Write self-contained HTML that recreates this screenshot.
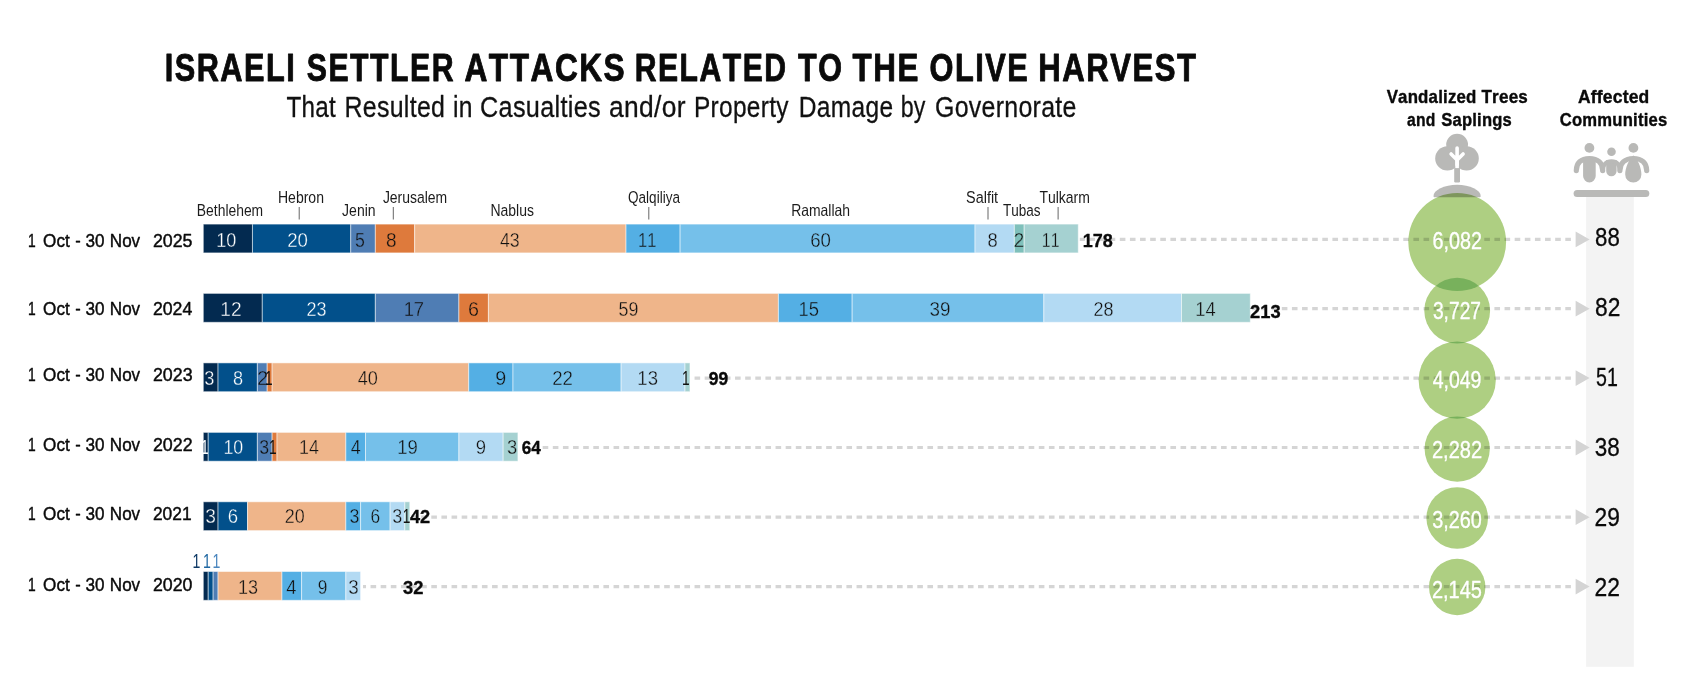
<!DOCTYPE html>
<html lang="en"><head><meta charset="utf-8"><title>Israeli settler attacks related to the olive harvest</title>
<style>html,body{margin:0;padding:0;background:#fff}svg{display:block}</style></head>
<body>
<svg width="1688" height="694" viewBox="0 0 1688 694" font-family='"Liberation Sans", sans-serif' style="font-kerning:none;font-variant-ligatures:none">
<rect width="1688" height="694" fill="#fff"/>
<rect x="1586.1" y="196" width="47.7" height="470.8" fill="#f3f3f3"/>
<text transform="translate(164.70 80.70) scale(0.7831 1)" font-size="39.2" font-weight="700" letter-spacing="1.915" fill="#0a0a0a" stroke="#0a0a0a" stroke-width="0.9" stroke-linejoin="round">ISRAELI</text>
<text transform="translate(306.78 80.70) scale(0.7716 1)" font-size="39.2" font-weight="700" letter-spacing="1.944" fill="#0a0a0a" stroke="#0a0a0a" stroke-width="0.9" stroke-linejoin="round">SETTLER</text>
<text transform="translate(464.47 80.70) scale(0.8079 1)" font-size="39.2" font-weight="700" letter-spacing="1.857" fill="#0a0a0a" stroke="#0a0a0a" stroke-width="0.9" stroke-linejoin="round">ATTACKS</text>
<text transform="translate(634.73 80.70) scale(0.7687 1)" font-size="39.2" font-weight="700" letter-spacing="1.951" fill="#0a0a0a" stroke="#0a0a0a" stroke-width="0.9" stroke-linejoin="round">RELATED</text>
<text transform="translate(798.11 80.70) scale(0.7793 1)" font-size="39.2" font-weight="700" letter-spacing="1.925" fill="#0a0a0a" stroke="#0a0a0a" stroke-width="0.9" stroke-linejoin="round">TO</text>
<text transform="translate(852.61 80.70) scale(0.8005 1)" font-size="39.2" font-weight="700" letter-spacing="1.874" fill="#0a0a0a" stroke="#0a0a0a" stroke-width="0.9" stroke-linejoin="round">THE</text>
<text transform="translate(929.59 80.70) scale(0.7844 1)" font-size="39.2" font-weight="700" letter-spacing="1.912" fill="#0a0a0a" stroke="#0a0a0a" stroke-width="0.9" stroke-linejoin="round">OLIVE</text>
<text transform="translate(1038.28 80.70) scale(0.7939 1)" font-size="39.2" font-weight="700" letter-spacing="1.889" fill="#0a0a0a" stroke="#0a0a0a" stroke-width="0.9" stroke-linejoin="round">HARVEST</text>
<text transform="translate(286.38 116.70) scale(0.8382 1)" font-size="28.9" letter-spacing="0.358" fill="#111" stroke="#111" stroke-width="0.3" stroke-linejoin="round">That</text>
<text transform="translate(344.48 116.70) scale(0.8626 1)" font-size="28.9" letter-spacing="0.348" fill="#111" stroke="#111" stroke-width="0.3" stroke-linejoin="round">Resulted</text>
<text transform="translate(453.08 116.70) scale(0.8534 1)" font-size="28.9" letter-spacing="0.352" fill="#111" stroke="#111" stroke-width="0.3" stroke-linejoin="round">in</text>
<text transform="translate(480.05 116.70) scale(0.8740 1)" font-size="28.9" letter-spacing="0.343" fill="#111" stroke="#111" stroke-width="0.3" stroke-linejoin="round">Casualties</text>
<text transform="translate(609.12 116.70) scale(0.9139 1)" font-size="28.9" letter-spacing="0.328" fill="#111" stroke="#111" stroke-width="0.3" stroke-linejoin="round">and/or</text>
<text transform="translate(694.02 116.70) scale(0.8460 1)" font-size="28.9" letter-spacing="0.355" fill="#111" stroke="#111" stroke-width="0.3" stroke-linejoin="round">Property</text>
<text transform="translate(798.81 116.70) scale(0.8491 1)" font-size="28.9" letter-spacing="0.353" fill="#111" stroke="#111" stroke-width="0.3" stroke-linejoin="round">Damage</text>
<text transform="translate(900.63 116.70) scale(0.8027 1)" font-size="28.9" letter-spacing="0.374" fill="#111" stroke="#111" stroke-width="0.3" stroke-linejoin="round">by</text>
<text transform="translate(934.98 116.70) scale(0.8622 1)" font-size="28.9" letter-spacing="0.348" fill="#111" stroke="#111" stroke-width="0.3" stroke-linejoin="round">Governorate</text>
<text transform="translate(1386.66 102.60) scale(0.8864 1)" font-size="19.0" font-weight="700" letter-spacing="0.226" fill="#0a0a0a" stroke="#0a0a0a" stroke-width="0.4" stroke-linejoin="round">Vandalized</text>
<text transform="translate(1481.49 102.60) scale(0.8981 1)" font-size="19.0" font-weight="700" letter-spacing="0.223" fill="#0a0a0a" stroke="#0a0a0a" stroke-width="0.4" stroke-linejoin="round">Trees</text>
<text transform="translate(1407.01 126.30) scale(0.8248 1)" font-size="19.0" font-weight="700" letter-spacing="0.242" fill="#0a0a0a" stroke="#0a0a0a" stroke-width="0.4" stroke-linejoin="round">and</text>
<text transform="translate(1441.30 126.30) scale(0.8728 1)" font-size="19.0" font-weight="700" letter-spacing="0.229" fill="#0a0a0a" stroke="#0a0a0a" stroke-width="0.4" stroke-linejoin="round">Saplings</text>
<text transform="translate(1577.95 102.60) scale(0.9212 1)" font-size="19.0" font-weight="700" letter-spacing="0.217" fill="#0a0a0a" stroke="#0a0a0a" stroke-width="0.4" stroke-linejoin="round">Affected</text>
<text transform="translate(1559.79 126.30) scale(0.8759 1)" font-size="19.0" font-weight="700" letter-spacing="0.228" fill="#0a0a0a" stroke="#0a0a0a" stroke-width="0.4" stroke-linejoin="round">Communities</text>
<text transform="translate(196.86 215.70) scale(0.8311 1)" font-size="16.7" fill="#1c1c1c">Bethlehem</text>
<text transform="translate(277.95 202.60) scale(0.8410 1)" font-size="16.7" fill="#1c1c1c">Hebron</text>
<text transform="translate(342.08 215.70) scale(0.8399 1)" font-size="16.7" fill="#1c1c1c">Jenin</text>
<text transform="translate(382.88 202.60) scale(0.8365 1)" font-size="16.7" fill="#1c1c1c">Jerusalem</text>
<text transform="translate(490.45 215.70) scale(0.8378 1)" font-size="16.7" fill="#1c1c1c">Nablus</text>
<text transform="translate(628.06 202.60) scale(0.8110 1)" font-size="16.7" fill="#1c1c1c">Qalqiliya</text>
<text transform="translate(791.16 215.70) scale(0.8357 1)" font-size="16.7" fill="#1c1c1c">Ramallah</text>
<text transform="translate(966.05 202.60) scale(0.8635 1)" font-size="16.7" fill="#1c1c1c">Salfit</text>
<text transform="translate(1003.00 215.70) scale(0.8099 1)" font-size="16.7" fill="#1c1c1c">Tubas</text>
<text transform="translate(1039.39 202.60) scale(0.8380 1)" font-size="16.7" fill="#1c1c1c">Tulkarm</text>
<rect x="298.7" y="207" width="1" height="12.5" fill="#666"/>
<rect x="392.8" y="207" width="1" height="12.5" fill="#666"/>
<rect x="648.3" y="207" width="1" height="12.5" fill="#666"/>
<rect x="987.5" y="207" width="1" height="12.5" fill="#666"/>
<rect x="1057.6" y="207" width="1" height="12.5" fill="#666"/>
<path d="M1570.9 239.4H1079.8" stroke="#d5d5d5" stroke-width="3.2" stroke-dasharray="5.6 4.525" fill="none"/>
<path d="M1570.9 308.7H1251.8" stroke="#d5d5d5" stroke-width="3.2" stroke-dasharray="5.6 4.525" fill="none"/>
<path d="M1570.9 378.1H691.4" stroke="#d5d5d5" stroke-width="3.2" stroke-dasharray="5.6 4.525" fill="none"/>
<path d="M1570.9 447.5H519.4" stroke="#d5d5d5" stroke-width="3.2" stroke-dasharray="5.6 4.525" fill="none"/>
<path d="M1570.9 517.2H411.3" stroke="#d5d5d5" stroke-width="3.2" stroke-dasharray="5.6 4.525" fill="none"/>
<path d="M1570.9 586.6H363.0" stroke="#d5d5d5" stroke-width="3.2" stroke-dasharray="5.6 4.525" fill="none"/>
<path d="M1575.6 231.5L1589.6 239.4L1575.6 247.3Z" fill="#d4d4d4"/>
<path d="M1575.6 300.8L1589.6 308.7L1575.6 316.6Z" fill="#d4d4d4"/>
<path d="M1575.6 370.2L1589.6 378.1L1575.6 386.0Z" fill="#d4d4d4"/>
<path d="M1575.6 439.6L1589.6 447.5L1575.6 455.4Z" fill="#d4d4d4"/>
<path d="M1575.6 509.3L1589.6 517.2L1575.6 525.1Z" fill="#d4d4d4"/>
<path d="M1575.6 578.7L1589.6 586.6L1575.6 594.5Z" fill="#d4d4d4"/>
<rect x="203.30" y="224.10" width="49.16" height="28.80" fill="#032a50" stroke="#fff" stroke-opacity="0.5" stroke-width="1"/>
<rect x="252.46" y="224.10" width="98.31" height="28.80" fill="#02508b" stroke="#fff" stroke-opacity="0.5" stroke-width="1"/>
<rect x="350.76" y="224.10" width="24.58" height="28.80" fill="#4f7db4" stroke="#fff" stroke-opacity="0.5" stroke-width="1"/>
<rect x="375.34" y="224.10" width="39.32" height="28.80" fill="#de7a3c" stroke="#fff" stroke-opacity="0.5" stroke-width="1"/>
<rect x="414.67" y="224.10" width="211.37" height="28.80" fill="#efb58a" stroke="#fff" stroke-opacity="0.5" stroke-width="1"/>
<rect x="626.03" y="224.10" width="54.07" height="28.80" fill="#54afe4" stroke="#fff" stroke-opacity="0.5" stroke-width="1"/>
<rect x="680.10" y="224.10" width="294.93" height="28.80" fill="#75c0ea" stroke="#fff" stroke-opacity="0.5" stroke-width="1"/>
<rect x="975.03" y="224.10" width="39.32" height="28.80" fill="#b3daf3" stroke="#fff" stroke-opacity="0.5" stroke-width="1"/>
<rect x="1014.36" y="224.10" width="9.83" height="28.80" fill="#7fc0bb" stroke="#fff" stroke-opacity="0.5" stroke-width="1"/>
<rect x="1024.19" y="224.10" width="54.07" height="28.80" fill="#a5d1d1" stroke="#fff" stroke-opacity="0.5" stroke-width="1"/>
<text transform="translate(216.16 247.00) scale(0.9222 1)" font-size="19.6" fill="#ffffff" stroke="#032a50" stroke-width="0.35" stroke-linejoin="round">10</text>
<text transform="translate(287.15 247.00) scale(0.9518 1)" font-size="19.6" fill="#ffffff" stroke="#02508b" stroke-width="0.35" stroke-linejoin="round">20</text>
<text transform="translate(355.03 247.00) scale(0.9058 1)" font-size="19.6" fill="#111" stroke="#4f7db4" stroke-width="0.35" stroke-linejoin="round">5</text>
<text transform="translate(386.10 247.00) scale(0.9721 1)" font-size="19.6" fill="#111" stroke="#de7a3c" stroke-width="0.35" stroke-linejoin="round">8</text>
<text transform="translate(499.93 247.00) scale(0.9062 1)" font-size="19.6" fill="#111" stroke="#efb58a" stroke-width="0.35" stroke-linejoin="round">43</text>
<text transform="translate(638.10 247.00) scale(0.8421 1)" font-size="19.6" fill="#111" stroke="#54afe4" stroke-width="0.35" stroke-linejoin="round">11</text>
<text transform="translate(810.14 247.00) scale(0.9522 1)" font-size="19.6" fill="#111" stroke="#75c0ea" stroke-width="0.35" stroke-linejoin="round">60</text>
<text transform="translate(987.54 247.00) scale(0.9382 1)" font-size="19.6" fill="#111" stroke="#b3daf3" stroke-width="0.35" stroke-linejoin="round">8</text>
<text transform="translate(1013.69 247.00) scale(0.9558 1)" font-size="19.6" fill="#111" stroke="#7fc0bb" stroke-width="0.35" stroke-linejoin="round">2</text>
<text transform="translate(1041.85 247.00) scale(0.8105 1)" font-size="19.6" fill="#111" stroke="#a5d1d1" stroke-width="0.35" stroke-linejoin="round">11</text>
<text transform="translate(28.01 246.70) scale(0.7401 1)" font-size="18.7" fill="#0a0a0a" stroke="#0a0a0a" stroke-width="0.45" stroke-linejoin="round">1</text>
<text transform="translate(43.10 246.70) scale(0.9152 1)" font-size="18.7" fill="#0a0a0a" stroke="#0a0a0a" stroke-width="0.45" stroke-linejoin="round">Oct</text>
<text transform="translate(75.17 246.70) scale(0.8773 1)" font-size="18.7" fill="#0a0a0a" stroke="#0a0a0a" stroke-width="0.45" stroke-linejoin="round">-</text>
<text transform="translate(85.55 246.70) scale(0.9138 1)" font-size="18.7" fill="#0a0a0a" stroke="#0a0a0a" stroke-width="0.45" stroke-linejoin="round">30</text>
<text transform="translate(109.81 246.70) scale(0.9126 1)" font-size="18.7" fill="#0a0a0a" stroke="#0a0a0a" stroke-width="0.45" stroke-linejoin="round">Nov</text>
<text transform="translate(152.92 246.70) scale(0.9523 1)" font-size="18.7" fill="#0a0a0a" stroke="#0a0a0a" stroke-width="0.45" stroke-linejoin="round">2025</text>
<text transform="translate(1082.63 246.70) scale(0.9482 1)" font-size="19.0" font-weight="700" fill="#0a0a0a" stroke="#0a0a0a" stroke-width="0.35" stroke-linejoin="round">178</text>
<rect x="203.30" y="293.40" width="58.99" height="28.90" fill="#032a50" stroke="#fff" stroke-opacity="0.5" stroke-width="1"/>
<rect x="262.29" y="293.40" width="113.06" height="28.90" fill="#02508b" stroke="#fff" stroke-opacity="0.5" stroke-width="1"/>
<rect x="375.34" y="293.40" width="83.56" height="28.90" fill="#4f7db4" stroke="#fff" stroke-opacity="0.5" stroke-width="1"/>
<rect x="458.91" y="293.40" width="29.49" height="28.90" fill="#de7a3c" stroke="#fff" stroke-opacity="0.5" stroke-width="1"/>
<rect x="488.40" y="293.40" width="290.01" height="28.90" fill="#efb58a" stroke="#fff" stroke-opacity="0.5" stroke-width="1"/>
<rect x="778.41" y="293.40" width="73.73" height="28.90" fill="#54afe4" stroke="#fff" stroke-opacity="0.5" stroke-width="1"/>
<rect x="852.15" y="293.40" width="191.70" height="28.90" fill="#75c0ea" stroke="#fff" stroke-opacity="0.5" stroke-width="1"/>
<rect x="1043.85" y="293.40" width="137.63" height="28.90" fill="#b3daf3" stroke="#fff" stroke-opacity="0.5" stroke-width="1"/>
<rect x="1181.48" y="293.40" width="68.82" height="28.90" fill="#a5d1d1" stroke="#fff" stroke-opacity="0.5" stroke-width="1"/>
<text transform="translate(220.37 315.80) scale(0.9751 1)" font-size="19.6" fill="#ffffff" stroke="#032a50" stroke-width="0.35" stroke-linejoin="round">12</text>
<text transform="translate(306.43 315.80) scale(0.9182 1)" font-size="19.6" fill="#ffffff" stroke="#02508b" stroke-width="0.35" stroke-linejoin="round">23</text>
<text transform="translate(403.64 315.80) scale(0.9382 1)" font-size="19.6" fill="#111" stroke="#4f7db4" stroke-width="0.35" stroke-linejoin="round">17</text>
<text transform="translate(468.07 315.80) scale(1.0064 1)" font-size="19.6" fill="#111" stroke="#de7a3c" stroke-width="0.35" stroke-linejoin="round">6</text>
<text transform="translate(618.62 315.80) scale(0.9119 1)" font-size="19.6" fill="#111" stroke="#efb58a" stroke-width="0.35" stroke-linejoin="round">59</text>
<text transform="translate(798.43 315.80) scale(0.9407 1)" font-size="19.6" fill="#111" stroke="#54afe4" stroke-width="0.35" stroke-linejoin="round">15</text>
<text transform="translate(929.61 315.80) scale(0.9607 1)" font-size="19.6" fill="#111" stroke="#75c0ea" stroke-width="0.35" stroke-linejoin="round">39</text>
<text transform="translate(1093.43 315.80) scale(0.9177 1)" font-size="19.6" fill="#111" stroke="#b3daf3" stroke-width="0.35" stroke-linejoin="round">28</text>
<text transform="translate(1195.23 315.80) scale(0.9389 1)" font-size="19.6" fill="#111" stroke="#a5d1d1" stroke-width="0.35" stroke-linejoin="round">14</text>
<text transform="translate(28.01 315.00) scale(0.7401 1)" font-size="18.7" fill="#0a0a0a" stroke="#0a0a0a" stroke-width="0.45" stroke-linejoin="round">1</text>
<text transform="translate(43.10 315.00) scale(0.9152 1)" font-size="18.7" fill="#0a0a0a" stroke="#0a0a0a" stroke-width="0.45" stroke-linejoin="round">Oct</text>
<text transform="translate(75.17 315.00) scale(0.8773 1)" font-size="18.7" fill="#0a0a0a" stroke="#0a0a0a" stroke-width="0.45" stroke-linejoin="round">-</text>
<text transform="translate(85.55 315.00) scale(0.9138 1)" font-size="18.7" fill="#0a0a0a" stroke="#0a0a0a" stroke-width="0.45" stroke-linejoin="round">30</text>
<text transform="translate(109.81 315.00) scale(0.9126 1)" font-size="18.7" fill="#0a0a0a" stroke="#0a0a0a" stroke-width="0.45" stroke-linejoin="round">Nov</text>
<text transform="translate(152.92 315.00) scale(0.9467 1)" font-size="18.7" fill="#0a0a0a" stroke="#0a0a0a" stroke-width="0.45" stroke-linejoin="round">2024</text>
<text transform="translate(1250.03 317.70) scale(0.9640 1)" font-size="19.0" font-weight="700" fill="#0a0a0a" stroke="#0a0a0a" stroke-width="0.35" stroke-linejoin="round">213</text>
<rect x="203.30" y="362.90" width="14.75" height="28.80" fill="#032a50" stroke="#fff" stroke-opacity="0.5" stroke-width="1"/>
<rect x="218.05" y="362.90" width="39.32" height="28.80" fill="#02508b" stroke="#fff" stroke-opacity="0.5" stroke-width="1"/>
<rect x="257.37" y="362.90" width="9.83" height="28.80" fill="#4f7db4" stroke="#fff" stroke-opacity="0.5" stroke-width="1"/>
<rect x="267.20" y="362.90" width="4.92" height="28.80" fill="#de7a3c" stroke="#fff" stroke-opacity="0.5" stroke-width="1"/>
<rect x="272.12" y="362.90" width="196.62" height="28.80" fill="#efb58a" stroke="#fff" stroke-opacity="0.5" stroke-width="1"/>
<rect x="468.74" y="362.90" width="44.24" height="28.80" fill="#54afe4" stroke="#fff" stroke-opacity="0.5" stroke-width="1"/>
<rect x="512.98" y="362.90" width="108.14" height="28.80" fill="#75c0ea" stroke="#fff" stroke-opacity="0.5" stroke-width="1"/>
<rect x="621.12" y="362.90" width="63.90" height="28.80" fill="#b3daf3" stroke="#fff" stroke-opacity="0.5" stroke-width="1"/>
<rect x="685.02" y="362.90" width="4.92" height="28.80" fill="#a5d1d1" stroke="#fff" stroke-opacity="0.5" stroke-width="1"/>
<text transform="translate(204.14 384.60) scale(0.9281 1)" font-size="19.6" fill="#ffffff" stroke="#032a50" stroke-width="0.35" stroke-linejoin="round">3</text>
<text transform="translate(232.95 384.60) scale(0.9269 1)" font-size="19.6" fill="#ffffff" stroke="#02508b" stroke-width="0.35" stroke-linejoin="round">8</text>
<text transform="translate(257.35 384.60) scale(0.9908 1)" font-size="19.6" fill="#111" stroke="#4f7db4" stroke-width="0.35" stroke-linejoin="round">2</text>
<text transform="translate(265.00 384.60) scale(0.7000 1)" font-size="19.6" fill="#111">1</text>
<text transform="translate(357.67 384.60) scale(0.9266 1)" font-size="19.6" fill="#111" stroke="#efb58a" stroke-width="0.35" stroke-linejoin="round">40</text>
<text transform="translate(495.15 384.60) scale(1.0053 1)" font-size="19.6" fill="#111" stroke="#54afe4" stroke-width="0.35" stroke-linejoin="round">9</text>
<text transform="translate(552.15 384.60) scale(0.9497 1)" font-size="19.6" fill="#111" stroke="#75c0ea" stroke-width="0.35" stroke-linejoin="round">22</text>
<text transform="translate(637.32 384.60) scale(0.9478 1)" font-size="19.6" fill="#111" stroke="#b3daf3" stroke-width="0.35" stroke-linejoin="round">13</text>
<text transform="translate(681.90 384.60) scale(0.7000 1)" font-size="19.6" fill="#111">1</text>
<text transform="translate(28.01 380.75) scale(0.7401 1)" font-size="18.7" fill="#0a0a0a" stroke="#0a0a0a" stroke-width="0.45" stroke-linejoin="round">1</text>
<text transform="translate(43.10 380.75) scale(0.9152 1)" font-size="18.7" fill="#0a0a0a" stroke="#0a0a0a" stroke-width="0.45" stroke-linejoin="round">Oct</text>
<text transform="translate(75.17 380.75) scale(0.8773 1)" font-size="18.7" fill="#0a0a0a" stroke="#0a0a0a" stroke-width="0.45" stroke-linejoin="round">-</text>
<text transform="translate(85.55 380.75) scale(0.9138 1)" font-size="18.7" fill="#0a0a0a" stroke="#0a0a0a" stroke-width="0.45" stroke-linejoin="round">30</text>
<text transform="translate(109.81 380.75) scale(0.9126 1)" font-size="18.7" fill="#0a0a0a" stroke="#0a0a0a" stroke-width="0.45" stroke-linejoin="round">Nov</text>
<text transform="translate(152.92 380.75) scale(0.9531 1)" font-size="18.7" fill="#0a0a0a" stroke="#0a0a0a" stroke-width="0.45" stroke-linejoin="round">2023</text>
<text transform="translate(708.86 384.90) scale(0.9195 1)" font-size="19.0" font-weight="700" fill="#0a0a0a" stroke="#0a0a0a" stroke-width="0.35" stroke-linejoin="round">99</text>
<rect x="203.30" y="432.40" width="4.92" height="28.80" fill="#032a50" stroke="#fff" stroke-opacity="0.5" stroke-width="1"/>
<rect x="208.22" y="432.40" width="49.16" height="28.80" fill="#02508b" stroke="#fff" stroke-opacity="0.5" stroke-width="1"/>
<rect x="257.37" y="432.40" width="14.75" height="28.80" fill="#4f7db4" stroke="#fff" stroke-opacity="0.5" stroke-width="1"/>
<rect x="272.12" y="432.40" width="4.92" height="28.80" fill="#de7a3c" stroke="#fff" stroke-opacity="0.5" stroke-width="1"/>
<rect x="277.03" y="432.40" width="68.82" height="28.80" fill="#efb58a" stroke="#fff" stroke-opacity="0.5" stroke-width="1"/>
<rect x="345.85" y="432.40" width="19.66" height="28.80" fill="#54afe4" stroke="#fff" stroke-opacity="0.5" stroke-width="1"/>
<rect x="365.51" y="432.40" width="93.39" height="28.80" fill="#75c0ea" stroke="#fff" stroke-opacity="0.5" stroke-width="1"/>
<rect x="458.91" y="432.40" width="44.24" height="28.80" fill="#b3daf3" stroke="#fff" stroke-opacity="0.5" stroke-width="1"/>
<rect x="503.15" y="432.40" width="14.75" height="28.80" fill="#a5d1d1" stroke="#fff" stroke-opacity="0.5" stroke-width="1"/>
<text transform="translate(200.90 453.90) scale(0.7000 1)" font-size="19.6" fill="#ffffff">1</text>
<text transform="translate(223.49 453.90) scale(0.9066 1)" font-size="19.6" fill="#ffffff" stroke="#02508b" stroke-width="0.35" stroke-linejoin="round">10</text>
<text transform="translate(259.27 453.90) scale(0.9058 1)" font-size="19.6" fill="#111" stroke="#4f7db4" stroke-width="0.35" stroke-linejoin="round">3</text>
<text transform="translate(269.10 453.90) scale(0.7000 1)" font-size="19.6" fill="#111">1</text>
<text transform="translate(298.98 453.90) scale(0.9131 1)" font-size="19.6" fill="#111" stroke="#efb58a" stroke-width="0.35" stroke-linejoin="round">14</text>
<text transform="translate(350.68 453.90) scale(0.9185 1)" font-size="19.6" fill="#111" stroke="#54afe4" stroke-width="0.35" stroke-linejoin="round">4</text>
<text transform="translate(397.17 453.90) scale(0.9459 1)" font-size="19.6" fill="#111" stroke="#75c0ea" stroke-width="0.35" stroke-linejoin="round">19</text>
<text transform="translate(475.77 453.90) scale(0.9421 1)" font-size="19.6" fill="#111" stroke="#b3daf3" stroke-width="0.35" stroke-linejoin="round">9</text>
<text transform="translate(506.93 453.90) scale(0.9393 1)" font-size="19.6" fill="#111" stroke="#a5d1d1" stroke-width="0.35" stroke-linejoin="round">3</text>
<text transform="translate(28.01 450.75) scale(0.7401 1)" font-size="18.7" fill="#0a0a0a" stroke="#0a0a0a" stroke-width="0.45" stroke-linejoin="round">1</text>
<text transform="translate(43.10 450.75) scale(0.9152 1)" font-size="18.7" fill="#0a0a0a" stroke="#0a0a0a" stroke-width="0.45" stroke-linejoin="round">Oct</text>
<text transform="translate(75.17 450.75) scale(0.8773 1)" font-size="18.7" fill="#0a0a0a" stroke="#0a0a0a" stroke-width="0.45" stroke-linejoin="round">-</text>
<text transform="translate(85.55 450.75) scale(0.9138 1)" font-size="18.7" fill="#0a0a0a" stroke="#0a0a0a" stroke-width="0.45" stroke-linejoin="round">30</text>
<text transform="translate(109.81 450.75) scale(0.9126 1)" font-size="18.7" fill="#0a0a0a" stroke="#0a0a0a" stroke-width="0.45" stroke-linejoin="round">Nov</text>
<text transform="translate(152.92 450.75) scale(0.9560 1)" font-size="18.7" fill="#0a0a0a" stroke="#0a0a0a" stroke-width="0.45" stroke-linejoin="round">2022</text>
<text transform="translate(521.73 453.60) scale(0.9040 1)" font-size="19.0" font-weight="700" fill="#0a0a0a" stroke="#0a0a0a" stroke-width="0.35" stroke-linejoin="round">64</text>
<rect x="203.30" y="501.80" width="14.75" height="28.80" fill="#032a50" stroke="#fff" stroke-opacity="0.5" stroke-width="1"/>
<rect x="218.05" y="501.80" width="29.49" height="28.80" fill="#02508b" stroke="#fff" stroke-opacity="0.5" stroke-width="1"/>
<rect x="247.54" y="501.80" width="98.31" height="28.80" fill="#efb58a" stroke="#fff" stroke-opacity="0.5" stroke-width="1"/>
<rect x="345.85" y="501.80" width="14.75" height="28.80" fill="#54afe4" stroke="#fff" stroke-opacity="0.5" stroke-width="1"/>
<rect x="360.60" y="501.80" width="29.49" height="28.80" fill="#75c0ea" stroke="#fff" stroke-opacity="0.5" stroke-width="1"/>
<rect x="390.09" y="501.80" width="14.75" height="28.80" fill="#b3daf3" stroke="#fff" stroke-opacity="0.5" stroke-width="1"/>
<rect x="404.84" y="501.80" width="4.92" height="28.80" fill="#a5d1d1" stroke="#fff" stroke-opacity="0.5" stroke-width="1"/>
<text transform="translate(205.35 522.70) scale(0.9784 1)" font-size="19.6" fill="#ffffff" stroke="#032a50" stroke-width="0.35" stroke-linejoin="round">3</text>
<text transform="translate(227.64 522.70) scale(0.9489 1)" font-size="19.6" fill="#ffffff" stroke="#02508b" stroke-width="0.35" stroke-linejoin="round">6</text>
<text transform="translate(284.69 522.70) scale(0.9137 1)" font-size="19.6" fill="#111" stroke="#efb58a" stroke-width="0.35" stroke-linejoin="round">20</text>
<text transform="translate(349.57 522.70) scale(0.9058 1)" font-size="19.6" fill="#111" stroke="#54afe4" stroke-width="0.35" stroke-linejoin="round">3</text>
<text transform="translate(370.56 522.70) scale(0.8857 1)" font-size="19.6" fill="#111" stroke="#75c0ea" stroke-width="0.35" stroke-linejoin="round">6</text>
<text transform="translate(392.16 522.70) scale(0.9169 1)" font-size="19.6" fill="#111" stroke="#b3daf3" stroke-width="0.35" stroke-linejoin="round">3</text>
<text transform="translate(402.70 522.70) scale(0.7000 1)" font-size="19.6" fill="#111">1</text>
<text transform="translate(28.01 520.00) scale(0.7401 1)" font-size="18.7" fill="#0a0a0a" stroke="#0a0a0a" stroke-width="0.45" stroke-linejoin="round">1</text>
<text transform="translate(43.10 520.00) scale(0.9152 1)" font-size="18.7" fill="#0a0a0a" stroke="#0a0a0a" stroke-width="0.45" stroke-linejoin="round">Oct</text>
<text transform="translate(75.17 520.00) scale(0.8773 1)" font-size="18.7" fill="#0a0a0a" stroke="#0a0a0a" stroke-width="0.45" stroke-linejoin="round">-</text>
<text transform="translate(85.55 520.00) scale(0.9138 1)" font-size="18.7" fill="#0a0a0a" stroke="#0a0a0a" stroke-width="0.45" stroke-linejoin="round">30</text>
<text transform="translate(109.81 520.00) scale(0.9126 1)" font-size="18.7" fill="#0a0a0a" stroke="#0a0a0a" stroke-width="0.45" stroke-linejoin="round">Nov</text>
<text transform="translate(152.93 520.00) scale(0.9304 1)" font-size="18.7" fill="#0a0a0a" stroke="#0a0a0a" stroke-width="0.45" stroke-linejoin="round">2021</text>
<text transform="translate(409.99 522.60) scale(0.9591 1)" font-size="19.0" font-weight="700" fill="#0a0a0a" stroke="#0a0a0a" stroke-width="0.35" stroke-linejoin="round">42</text>
<rect x="203.30" y="571.50" width="4.92" height="28.80" fill="#032a50" stroke="#fff" stroke-opacity="0.5" stroke-width="1"/>
<rect x="208.22" y="571.50" width="4.92" height="28.80" fill="#02508b" stroke="#fff" stroke-opacity="0.5" stroke-width="1"/>
<rect x="213.13" y="571.50" width="4.92" height="28.80" fill="#4f7db4" stroke="#fff" stroke-opacity="0.5" stroke-width="1"/>
<rect x="218.05" y="571.50" width="63.90" height="28.80" fill="#efb58a" stroke="#fff" stroke-opacity="0.5" stroke-width="1"/>
<rect x="281.95" y="571.50" width="19.66" height="28.80" fill="#54afe4" stroke="#fff" stroke-opacity="0.5" stroke-width="1"/>
<rect x="301.61" y="571.50" width="44.24" height="28.80" fill="#75c0ea" stroke="#fff" stroke-opacity="0.5" stroke-width="1"/>
<rect x="345.85" y="571.50" width="14.75" height="28.80" fill="#b3daf3" stroke="#fff" stroke-opacity="0.5" stroke-width="1"/>
<text transform="translate(238.06 593.70) scale(0.9216 1)" font-size="19.6" fill="#111" stroke="#efb58a" stroke-width="0.35" stroke-linejoin="round">13</text>
<text transform="translate(286.32 593.70) scale(0.9342 1)" font-size="19.6" fill="#111" stroke="#54afe4" stroke-width="0.35" stroke-linejoin="round">4</text>
<text transform="translate(317.63 593.70) scale(0.8847 1)" font-size="19.6" fill="#111" stroke="#75c0ea" stroke-width="0.35" stroke-linejoin="round">9</text>
<text transform="translate(348.21 593.70) scale(0.9617 1)" font-size="19.6" fill="#111" stroke="#b3daf3" stroke-width="0.35" stroke-linejoin="round">3</text>
<text transform="translate(28.01 590.75) scale(0.7401 1)" font-size="18.7" fill="#0a0a0a" stroke="#0a0a0a" stroke-width="0.45" stroke-linejoin="round">1</text>
<text transform="translate(43.10 590.75) scale(0.9152 1)" font-size="18.7" fill="#0a0a0a" stroke="#0a0a0a" stroke-width="0.45" stroke-linejoin="round">Oct</text>
<text transform="translate(75.17 590.75) scale(0.8773 1)" font-size="18.7" fill="#0a0a0a" stroke="#0a0a0a" stroke-width="0.45" stroke-linejoin="round">-</text>
<text transform="translate(85.55 590.75) scale(0.9138 1)" font-size="18.7" fill="#0a0a0a" stroke="#0a0a0a" stroke-width="0.45" stroke-linejoin="round">30</text>
<text transform="translate(109.81 590.75) scale(0.9126 1)" font-size="18.7" fill="#0a0a0a" stroke="#0a0a0a" stroke-width="0.45" stroke-linejoin="round">Nov</text>
<text transform="translate(152.92 590.75) scale(0.9510 1)" font-size="18.7" fill="#0a0a0a" stroke="#0a0a0a" stroke-width="0.45" stroke-linejoin="round">2020</text>
<text transform="translate(402.95 593.60) scale(0.9661 1)" font-size="19.0" font-weight="700" fill="#0a0a0a" stroke="#0a0a0a" stroke-width="0.35" stroke-linejoin="round">32</text>
<text transform="translate(192.48 567.80) scale(0.7200 1)" font-size="19.6" fill="#0f3a66">1</text>
<text transform="translate(202.98 567.80) scale(0.7200 1)" font-size="19.6" fill="#1f67a2">1</text>
<text transform="translate(212.48 567.80) scale(0.7200 1)" font-size="19.6" fill="#4a86be">1</text>
<g fill="#b9b9b7">
<circle cx="1457.1" cy="144.6" r="10.9"/><circle cx="1447.4" cy="158.4" r="12.2"/><circle cx="1466.6" cy="158.4" r="12.2"/>
<rect x="1454.2" y="160" width="5.8" height="22.5" rx="1.2"/>
<path d="M1433.5 196.2 A23.6 11.4 0 0 1 1480.7 196.2 Q1480.7 197.2 1479.7 197.2 H1434.5 Q1433.5 197.2 1433.5 196.2 Z"/>
</g>
<path d="M1457.1 148V165M1457.1 159.9L1451.1 153.9M1457.1 159.9L1463.1 153.9" stroke="#fff" stroke-width="3.6" stroke-linecap="round" fill="none"/>
<rect x="1455.3" y="160" width="3.6" height="8.1" fill="#fff"/>
<g fill="#b9b9b7">
<rect x="1573.6" y="189.9" width="75.7" height="7" rx="3.5"/>
<circle cx="1589.4" cy="147.9" r="4.9"/><circle cx="1611.5" cy="151.7" r="4.3"/><circle cx="1633.4" cy="147.9" r="4.9"/>
<path d="M1583.1 158 H1595.7 V176.1 A6.3 6.3 0 0 1 1583.1 176.1 Z"/>
<path d="M1606.2 160 H1616.6 V171 A5.2 5.2 0 0 1 1606.2 171 Z"/>
<path d="M1633.4 155.5 C1629.5 158 1625 168 1625.2 174.5 A8.1 8.1 0 0 0 1641.4 174.5 C1641.6 168 1637.3 158 1633.4 155.5 Z"/>
</g>
<g fill="none" stroke="#b9b9b7" stroke-width="5.2" stroke-linecap="round">
<path d="M1576.3 170.6 C1576.3 163 1581 158.5 1589.4 158.5 C1597.8 158.5 1602.7 163 1602.7 170.6"/>
<path d="M1619.9 170.6 C1619.9 163 1625 158.5 1633.4 158.5 C1641.8 158.5 1646.7 163 1646.7 170.6"/>
<path d="M1602.7 170.6 C1602.7 165 1606 161.4 1611.5 161.4 C1617 161.4 1619.9 165 1619.9 170.6" stroke-width="4.4"/>
</g>
<defs>
<clipPath id="cc0"><circle cx="1457.2" cy="242.0" r="48.9"/></clipPath>
<clipPath id="cc1"><circle cx="1457.2" cy="310.7" r="32.9"/></clipPath>
<clipPath id="cc2"><circle cx="1457.2" cy="380.1" r="38.6"/></clipPath>
<clipPath id="cc3"><circle cx="1457.2" cy="449.1" r="32.6"/></clipPath>
<clipPath id="cc4"><circle cx="1457.2" cy="518.0" r="30.8"/></clipPath>
<clipPath id="cc5"><circle cx="1457.2" cy="587.0" r="28.2"/></clipPath>
</defs>
<g style="mix-blend-mode:multiply" fill="#aecf82">
<circle cx="1457.2" cy="242.0" r="48.9"/>
<circle cx="1457.2" cy="310.7" r="32.9"/>
<circle cx="1457.2" cy="380.1" r="38.6"/>
<circle cx="1457.2" cy="449.1" r="32.6"/>
<circle cx="1457.2" cy="518.0" r="30.8"/>
<circle cx="1457.2" cy="587.0" r="28.2"/>
</g>
<circle cx="1457.2" cy="310.7" r="32.9" fill="#78b15c" clip-path="url(#cc0)"/>
<circle cx="1457.2" cy="380.1" r="38.6" fill="#78b15c" clip-path="url(#cc1)"/>
<circle cx="1457.2" cy="449.1" r="32.6" fill="#78b15c" clip-path="url(#cc2)"/>
<text transform="translate(1432.54 248.70) scale(0.8365 1)" font-size="23.7" fill="#fff" stroke="#fff" stroke-width="0.35" stroke-linejoin="round">6,082</text>
<text transform="translate(1432.91 318.50) scale(0.8113 1)" font-size="23.7" fill="#fff" stroke="#fff" stroke-width="0.35" stroke-linejoin="round">3,727</text>
<text transform="translate(1432.70 387.80) scale(0.8225 1)" font-size="23.7" fill="#fff" stroke="#fff" stroke-width="0.35" stroke-linejoin="round">4,049</text>
<text transform="translate(1431.94 457.50) scale(0.8468 1)" font-size="23.7" fill="#fff" stroke="#fff" stroke-width="0.35" stroke-linejoin="round">2,282</text>
<text transform="translate(1432.19 527.70) scale(0.8387 1)" font-size="23.7" fill="#fff" stroke="#fff" stroke-width="0.35" stroke-linejoin="round">3,260</text>
<text transform="translate(1431.94 597.80) scale(0.8439 1)" font-size="23.7" fill="#fff" stroke="#fff" stroke-width="0.35" stroke-linejoin="round">2,145</text>
<text transform="translate(1595.06 246.10) scale(0.8634 1)" font-size="25.8" fill="#0a0a0a" stroke="#0a0a0a" stroke-width="0.3" stroke-linejoin="round">88</text>
<text transform="translate(1595.04 316.20) scale(0.8842 1)" font-size="25.8" fill="#0a0a0a" stroke="#0a0a0a" stroke-width="0.3" stroke-linejoin="round">82</text>
<text transform="translate(1596.03 386.20) scale(0.7602 1)" font-size="25.8" fill="#0a0a0a" stroke="#0a0a0a" stroke-width="0.3" stroke-linejoin="round">51</text>
<text transform="translate(1594.78 455.70) scale(0.8701 1)" font-size="25.8" fill="#0a0a0a" stroke="#0a0a0a" stroke-width="0.3" stroke-linejoin="round">38</text>
<text transform="translate(1594.49 525.80) scale(0.8838 1)" font-size="25.8" fill="#0a0a0a" stroke="#0a0a0a" stroke-width="0.3" stroke-linejoin="round">29</text>
<text transform="translate(1594.48 595.70) scale(0.8863 1)" font-size="25.8" fill="#0a0a0a" stroke="#0a0a0a" stroke-width="0.3" stroke-linejoin="round">22</text>
</svg>
</body></html>
